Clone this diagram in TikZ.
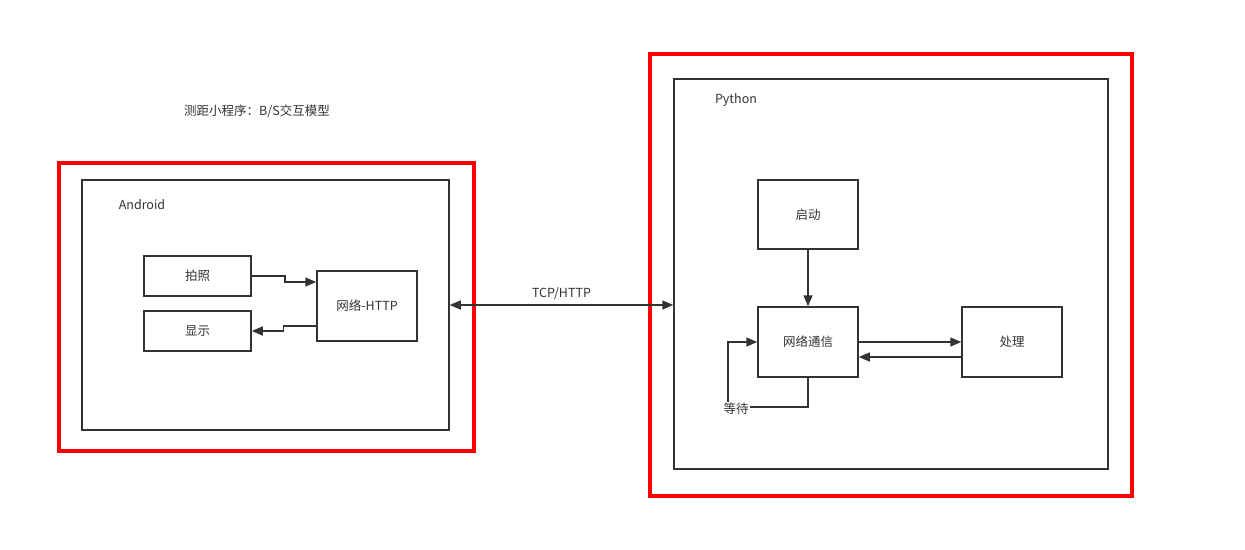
\documentclass[tikz,border=0pt]{standalone}
\usepackage{fontspec}
\setmainfont{Noto Sans CJK SC}
\usetikzlibrary{arrows.meta,calc}
\definecolor{ink}{HTML}{333333}
\begin{document}
\begin{tikzpicture}[x=1pt,y=-1pt,
  redframe/.style={draw=red,line width=4pt},
  outerbox/.style={draw=ink,line width=1.5pt},
  box/.style={draw=ink,line width=1.5pt,inner sep=0pt,font=\fontsize{12.5}{14}\selectfont,text=ink},
  lbl/.style={font=\fontsize{12.5}{14}\selectfont,text=ink,inner sep=1pt},
  arr/.style={draw=ink,line width=1.5pt,-{Triangle[length=11pt,width=9pt]}},
  darr/.style={draw=ink,line width=1.5pt,{Triangle[length=11pt,width=9pt]}-{Triangle[length=11pt,width=9pt]}}]
\useasboundingbox (0,0) rectangle (1245,549);
\fill[white] (0,0) rectangle (1245,549);
% title
\node[lbl] (title) at (257,111) {测距小程序：B/S交互模型};
% left
\node[redframe,minimum width=415pt,minimum height=288pt,inner sep=0pt] (lred) at (266.5,307) {};
\node[outerbox,minimum width=367pt,minimum height=250pt,inner sep=0pt] (abox) at (265.5,305) {};
\node[lbl] (alabel) at (142,205) {Android};
\node[box,minimum width=107pt,minimum height=40pt] (pz) at (197.5,276) {拍照};
\node[box,minimum width=107pt,minimum height=40pt] (xs) at (197.5,331) {显示};
\node[box,minimum width=100pt,minimum height=70pt] (net) at (367,306) {网络-HTTP};
\draw[arr] (pz.east) -- ++(33,0) |- ([yshift=24pt]net.west);
\draw[arr] ([yshift=-20pt]net.west) -- ++(-33,0) |- (xs.east);
% right
\node[redframe,minimum width=482pt,minimum height=442pt,inner sep=0pt] (rred) at (891,275) {};
\node[outerbox,minimum width=434pt,minimum height=390pt,inner sep=0pt] (pbox) at (891,274) {};
\node[lbl] (plabel) at (736,100) {Python};
\node[box,minimum width=100pt,minimum height=69pt] (qd) at (808,214.5) {启动};
\node[box,minimum width=100pt,minimum height=70pt] (tx) at (808,342) {网络通信};
\node[box,minimum width=100pt,minimum height=70pt] (cl) at (1012,342) {处理};
\draw[arr] (qd.south) -- (tx.north);
\draw[arr] (tx.east) -- (cl.west);
\draw[arr] ([yshift=-15pt]cl.west) -- ([yshift=-15pt]tx.east);
\coordinate (wc) at (728,407);
\draw[arr] (tx.south) |- (wc) |- (tx.west);
\node[lbl,fill=white] (wait) at (736,409) {等待};
% TCP
\draw[darr] (abox.east) -- (pbox.west |- abox.east) node[midway,above=4pt,lbl] (tcp) {TCP/HTTP};
\end{tikzpicture}
\end{document}
